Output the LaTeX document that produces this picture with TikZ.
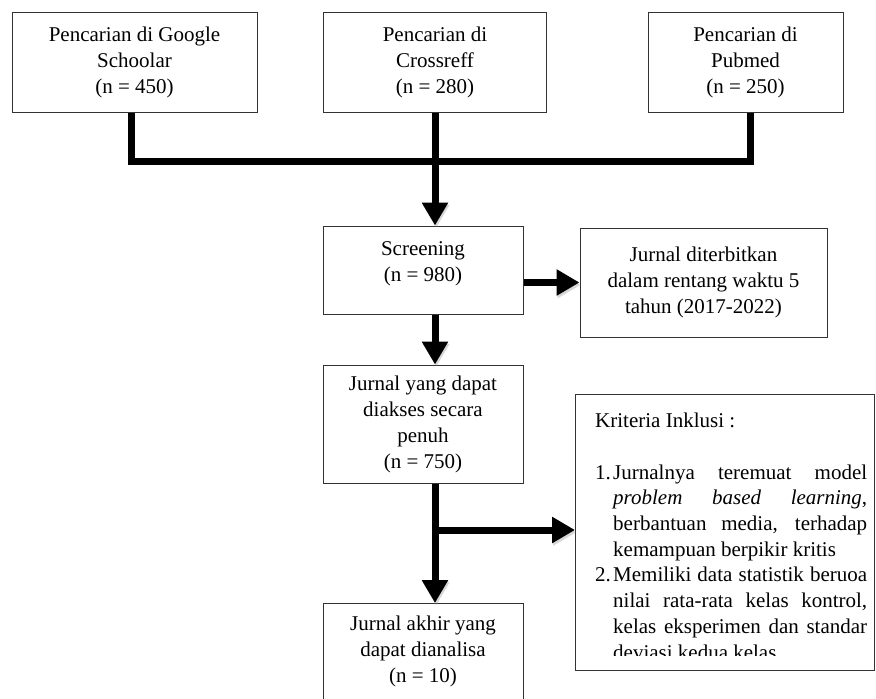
\documentclass[tikz,border=0pt]{standalone}
\usepackage{fontspec}
\setmainfont{Liberation Serif}
\usetikzlibrary{arrows.meta,calc}
\begin{document}
\begin{tikzpicture}[x=1pt,y=-1pt,
  box/.style={draw=black!80, line width=1pt, inner sep=0pt},
  txt/.style={align=center, inner sep=0pt, font=\fontsize{21}{26}\selectfont},
  conn/.style={line width=7pt, draw=black, preaction={draw=black!45, opacity=.35, transform canvas={shift={(1.2pt,-2.4pt)}}}},
  arr/.style={conn, -{Triangle[length=23pt,width=25pt]}}
]
\useasboundingbox (0,0) rectangle (876,699);

% top boxes
\node[box, txt, minimum width=245pt, minimum height=100pt] (b1) at (134.5,62) {Pencarian di Google\\Schoolar\\(n = 450)};
\node[box, txt, minimum width=223pt, minimum height=100pt] (b2) at (435,62) {Pencarian di\\Crossreff\\(n = 280)};
\node[box, txt, minimum width=195pt, minimum height=100pt] (b3) at (745.5,62) {Pencarian di\\Pubmed\\(n = 250)};

% screening
\node[box, minimum width=200pt, minimum height=88pt] (scr) at (423,270) {};
\node[txt] (scrt) at (423,263.5) {Screening\\(n = 980)};

\node[box, txt, minimum width=247pt, minimum height=109pt] (dit) at (703.5,282.5) {Jurnal diterbitkan\\dalam rentang waktu 5\\tahun (2017-2022)};

\node[box, txt, minimum width=200pt, minimum height=118pt] (jy) at (423,424) {Jurnal yang dapat\\diakses secara\\penuh\\(n = 750)};

% criteria box
\node[box, minimum width=299pt, minimum height=276pt] (crit) at (725,532) {};
\begin{scope}
\clip (576,395) rectangle (874,655);
\node[anchor=north west, inner sep=0pt, align=left, font=\fontsize{21}{25.7}\selectfont] (ct) at (595,413) {%
Kriteria Inklusi :\\
\mbox{}\\
\makebox[18pt][l]{1.}\makebox[254pt][s]{Jurnalnya teremuat model}\\
\hspace*{18pt}\makebox[254pt][s]{\textit{problem based learning},}\\
\hspace*{18pt}\makebox[254pt][s]{berbantuan media, terhadap}\\
\hspace*{18pt}kemampuan berpikir kritis\\
\makebox[18pt][l]{2.}\makebox[254pt][s]{Memiliki data statistik beruoa}\\
\hspace*{18pt}\makebox[254pt][s]{nilai rata-rata kelas kontrol,}\\
\hspace*{18pt}\makebox[254pt][s]{kelas eksperimen dan standar}\\
\hspace*{18pt}deviasi kedua kelas.};
\end{scope}

% final box (cut off at the bottom)
\coordinate (fintop) at (423,603);
\draw[draw=black!80, line width=1pt] (323,700) -- (323,603) -- (523,603) -- (523,700);
\node[txt] (fin) at (423,651) {Jurnal akhir yang\\dapat dianalisa\\(n = 10)};

% connectors
\coordinate (j) at (435,161);
\coordinate (lb) at (131,161);
\coordinate (rb) at (750,161);
\coordinate (br) at (435,530);
\draw[conn] (b1.south -| lb) -- (lb) -- (rb) -- (b3.south -| rb);
\draw[arr] (b2.south -| j) -- (j |- scr.north);
\draw[arr] (scr.east |- dit.west) -- (dit.west);
\draw[arr] (scr.south -| j) -- (j |- jy.north);
\draw[arr] (jy.south -| j) -- (j |- fintop);
\draw[arr] (br) -- (br -| crit.west);
\end{tikzpicture}
\end{document}
